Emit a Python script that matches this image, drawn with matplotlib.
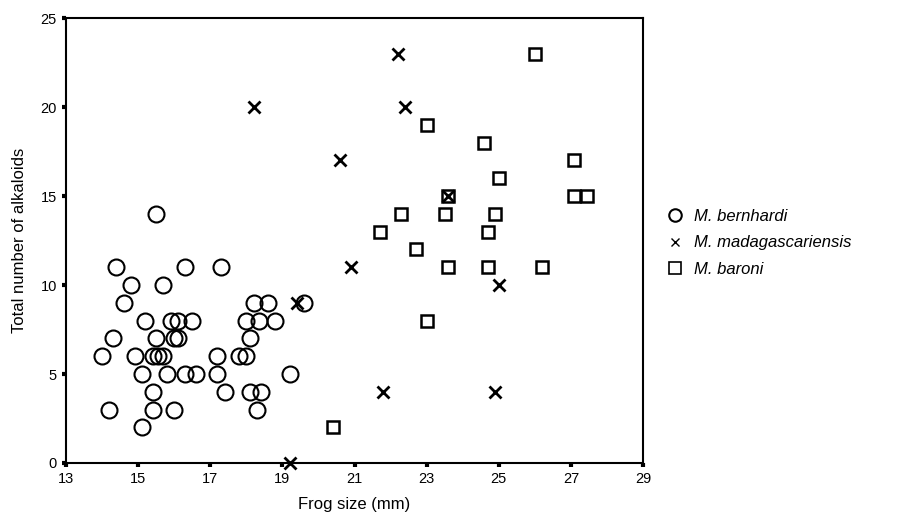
import matplotlib
matplotlib.use("Agg")
import matplotlib.pyplot as plt
from matplotlib.lines import Line2D

plt.rcParams['font.family'] = ['Liberation Sans', 'DejaVu Sans']

# M. bernhardi (circles)
bern_x = [14.4, 16.3, 17.3, 14.8, 15.7, 14.6, 18.2, 18.6, 19.6,
          15.2, 15.9, 16.1, 16.5, 18.0, 18.35, 18.8,
          14.3, 15.5, 16.0, 16.1, 18.1,
          14.0, 14.9, 15.4, 15.55, 15.7, 17.2, 17.8, 18.0,
          15.1, 15.8, 16.3, 16.6, 17.2, 19.2,
          15.4, 17.4, 18.1, 18.4,
          14.2, 15.4, 16.0, 18.3,
          15.1, 15.5]
bern_y = [11, 11, 11, 10, 10, 9, 9, 9, 9,
          8, 8, 8, 8, 8, 8, 8,
          7, 7, 7, 7, 7,
          6, 6, 6, 6, 6, 6, 6, 6,
          5, 5, 5, 5, 5, 5,
          4, 4, 4, 4,
          3, 3, 3, 3,
          2, 14]

# M. madagascariensis (crosses)
mada_x = [18.2, 20.6, 20.9, 19.4, 19.2, 22.2, 22.4, 23.6, 25.0, 21.8, 24.9]
mada_y = [20, 17, 11, 9, 0, 23, 20, 15, 10, 4, 4]

# M. baroni (squares)
baro_x = [26.0, 23.0, 24.6, 27.1, 25.0, 23.6, 27.1, 27.45, 22.3, 23.5, 24.9,
          21.7, 24.7, 22.7, 23.6, 24.7, 26.2, 23.0, 20.4]
baro_y = [23, 19, 18, 17, 16, 15, 15, 15, 14, 14, 14,
          13, 13, 12, 11, 11, 11, 8, 2]

x_ticks = [13, 15, 17, 19, 21, 23, 25, 27, 29]
y_ticks = [0, 5, 10, 15, 20, 25]

fig = plt.figure(figsize=(9.14, 5.16), dpi=100)
ax = fig.add_axes([66 / 914, 1 - 463 / 516, (643 - 66) / 914, (463 - 18) / 516])

ax.plot(bern_x, bern_y, 'o', ms=11.5, mfc='none', mec='black', mew=1.5, clip_on=False)
ax.plot(mada_x, mada_y, 'x', ms=9, mec='black', mew=2, clip_on=False)
ax.plot(baro_x, baro_y, 's', ms=8, mfc='none', mec='black', mew=1.8, clip_on=False)

ax.set_xlim(13, 29)
ax.set_ylim(0, 25)
ax.set_xticks(x_ticks)
ax.set_yticks(y_ticks)
ax.tick_params(direction='out', length=3, width=3, labelsize=10.5)
for s in ax.spines.values():
    s.set_linewidth(1.5)

ax.set_xlabel('Frog size (mm)', fontsize=12, labelpad=8)
ax.set_ylabel('Total number of alkaloids', fontsize=12, labelpad=10)

handles = [
    Line2D([], [], ls='none', marker='o', ms=9, mfc='none', mec='black', mew=1.5),
    Line2D([], [], ls='none', marker='x', ms=6, mec='black', mew=1),
    Line2D([], [], ls='none', marker='s', ms=9, mfc='none', mec='black', mew=1.2),
]
labels = ['M. bernhardi', 'M. madagascariensis', 'M. baroni']
leg = fig.legend(handles, labels, loc='center left', bbox_to_anchor=(652 / 914, 1 - 243 / 516),
                 frameon=False, handlelength=1, handletextpad=0.6, labelspacing=0.7,
                 prop={'style': 'italic', 'size': 12})

fig.savefig('out.png', dpi=100)
